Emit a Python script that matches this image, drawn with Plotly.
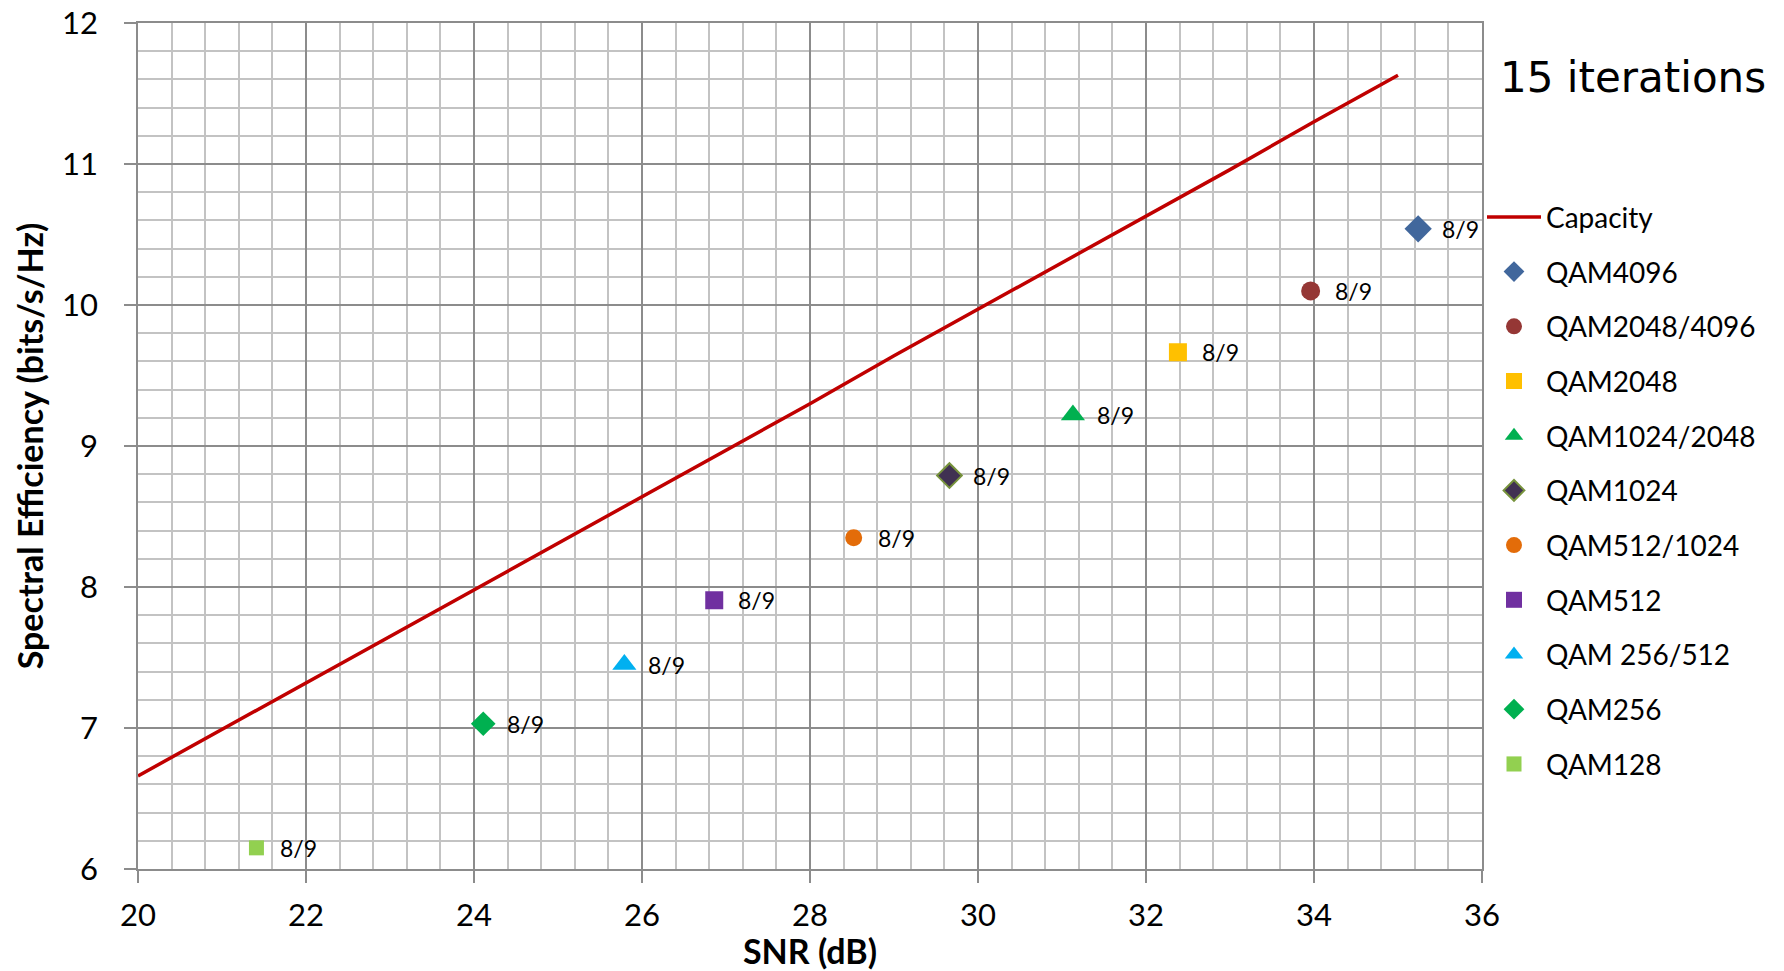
import plotly.graph_objects as go

# Capacity curve
cap_snr = [20, 21, 22, 23, 24, 25, 26, 27, 28, 29, 30, 31, 32, 33, 34, 35]
cap_se = [6.66, 6.99, 7.32, 7.65, 7.98, 8.31, 8.64, 8.97, 9.30, 9.64, 9.97,
          10.30, 10.63, 10.96, 11.30, 11.63]

# Modulation points
names = ["QAM4096", "QAM2048/4096", "QAM2048", "QAM1024/2048", "QAM1024",
         "QAM512/1024", "QAM512", "QAM 256/512", "QAM256", "QAM128"]
snr = [35.24, 33.96, 32.38, 31.13, 29.66, 28.52, 26.86, 25.79, 24.11, 21.41]
se = [10.54, 10.10, 9.665, 9.22, 8.79, 8.35, 7.906, 7.45, 7.03, 6.15]
rate_labels = ["8/9"] * 10

symbols = ["diamond", "circle", "square", "triangle-up", "diamond",
           "circle", "square", "triangle-up", "diamond", "square"]
colors = ["#41679C", "#953735", "#FFC000", "#00B050", "#403152",
          "#E36C09", "#7030A0", "#00B0F0", "#00B050", "#92D050"]
line_colors = colors[:4] + ["#77933C"] + colors[5:]
line_widths = [0, 0, 0, 0, 2, 0, 0, 0, 0, 0]
sizes = [21, 19, 18, 21, 19, 17, 18, 21, 19, 15]

FONT = "Lato"

fig = go.Figure()
fig.add_trace(go.Scatter(
    x=cap_snr, y=cap_se, mode="lines", name="Capacity",
    line=dict(color="#C00000", width=3.5), legendgroup="cap"))

for i, n in enumerate(names):
    fig.add_trace(go.Scatter(
        x=[snr[i]], y=[se[i]], mode="markers", name=n, legendgroup=n,
        marker=dict(symbol=symbols[i], color=colors[i], size=sizes[i],
                    line=dict(color=line_colors[i], width=line_widths[i]))))
    fig.add_annotation(x=snr[i], y=se[i], text=rate_labels[i], showarrow=False,
                       xanchor="left", yanchor="middle", xshift=22,
                       font=dict(family=FONT, size=23, color="#000000"))

fig.add_annotation(xref="paper", yref="paper", x=1.012, y=0.936,
                   xanchor="left", yanchor="middle", text="15 iterations",
                   showarrow=False,
                   font=dict(family="DejaVu Sans", size=42, color="#000000"))

axis_common = dict(
    showgrid=True, gridcolor="#8C8C8C", gridwidth=1.5,
    showline=True, linecolor="#8C8C8C", linewidth=1.5, mirror=True,
    ticks="outside", ticklen=12, tickcolor="#8C8C8C", tickwidth=1.5,
    zeroline=False, automargin=False, ticklabeloverflow="allow",
    tickfont=dict(family=FONT, size=31, color="#000000"),
)

# page body has an 8px margin, so the figure is sized/offset to compensate
fig.update_layout(
    width=1776, height=963,
    margin=dict(l=130, r=302, t=15, b=102, autoexpand=False),
    paper_bgcolor="white", plot_bgcolor="white",
    showlegend=True,
    legend=dict(x=1.0, xanchor="left", y=0.80, yanchor="top",
                font=dict(family=FONT, size=28, color="#000000"),
                tracegroupgap=15.3, itemwidth=54, bgcolor="rgba(0,0,0,0)"),
    xaxis=dict(
        range=[20, 36], dtick=2, tick0=20,
        minor=dict(dtick=0.4, showgrid=True, gridcolor="#C3C3C3", gridwidth=1.5),
        title=dict(text="<b>SNR (dB)</b>", standoff=12,
                   font=dict(family=FONT, size=34, color="#000000")),
        ticklabelstandoff=6,
        **axis_common),
    yaxis=dict(
        range=[6, 12], dtick=1, tick0=6,
        minor=dict(dtick=0.2, showgrid=True, gridcolor="#C3C3C3", gridwidth=1.5),
        title=dict(text="<b>Spectral Efficiency (bits/s/Hz)</b>", standoff=8,
                   font=dict(family=FONT, size=34, color="#000000")),
        ticklabelstandoff=20,
        **axis_common),
)

fig.write_html("out.html")
